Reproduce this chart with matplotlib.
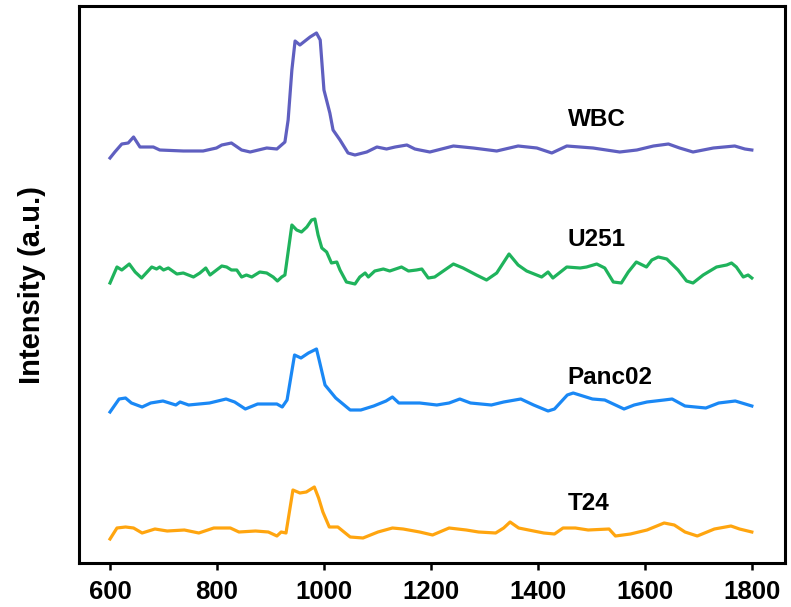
import numpy as np
import matplotlib as mpl
import matplotlib.pyplot as plt

# Raman spectra (wavenumber, intensity in a.u. incl. stacking offset)
wbc_x = [600, 609, 622, 634, 644, 656, 681, 693, 737, 774, 799, 809, 827, 846, 862, 893,
         912, 927, 933, 940, 946, 955, 974, 986, 993, 1000, 1011, 1017, 1030, 1045, 1058,
         1080, 1099, 1117, 1133, 1155, 1170, 1179, 1198, 1242, 1279, 1323, 1363, 1398,
         1426, 1454, 1503, 1553, 1585, 1616, 1644, 1665, 1690, 1728, 1768, 1787, 1800]
wbc_y = [405, 411, 419, 420, 426, 416, 416, 413, 412, 412, 415, 418, 420, 413, 411, 415,
         414, 421, 443, 493, 522, 518, 526, 530, 523, 473, 450, 433, 423, 410, 408,
         411, 416, 414, 416, 418, 414, 413, 411, 417, 415, 412, 417, 415,
         410, 417, 415, 411, 413, 417, 419, 415, 411, 415, 417, 414, 413]

u251_x = [600, 613, 622, 636, 647, 659, 678, 687, 693, 700, 709, 725, 737, 756, 768, 779,
          787, 809, 818, 827, 837, 846, 855, 865, 880, 893, 905, 913, 921, 927, 940, 949,
          958, 968, 977, 983, 989, 996, 1005, 1014, 1024, 1030, 1042, 1058, 1067, 1077,
          1083, 1095, 1111, 1123, 1145, 1158, 1173, 1183, 1195, 1207, 1242, 1260, 1285,
          1304, 1323, 1346, 1363, 1379, 1407, 1419, 1428, 1454, 1479, 1491, 1510, 1525,
          1541, 1556, 1569, 1584, 1603, 1613, 1625, 1641, 1662, 1678, 1690, 1709, 1734,
          1753, 1762, 1771, 1784, 1793, 1800]
u251_y = [280, 296, 293, 299, 291, 285, 296, 294, 296, 293, 295, 289, 290, 286, 290, 295,
          288, 297, 296, 293, 293, 286, 288, 286, 291, 290, 286, 282, 286, 288, 338, 333,
          331, 336, 343, 344, 328, 315, 311, 300, 301, 293, 281, 279, 286, 290,
          286, 292, 294, 292, 296, 292, 293, 294, 285, 286, 299, 295, 288,
          283, 290, 309, 298, 292, 286, 291, 285, 296, 295, 296, 299, 295,
          281, 280, 291, 301, 296, 303, 306, 304, 293, 282, 280, 288, 296,
          298, 300, 296, 286, 288, 285]

panc_x = [600, 617, 629, 640, 660, 676, 699, 723, 731, 747, 786, 817, 833, 853, 876, 912,
          922, 931, 945, 957, 971, 986, 991, 1002, 1022, 1049, 1069, 1093, 1116, 1128,
          1140, 1179, 1211, 1234, 1254, 1274, 1313, 1336, 1368, 1392, 1419, 1431, 1455,
          1466, 1478, 1502, 1525, 1561, 1580, 1604, 1636, 1651, 1675, 1714, 1738, 1769, 1800]
panc_y = [151, 164, 165, 160, 156, 160, 162, 158, 161, 158, 160, 164, 161, 154, 159, 159,
          156, 163, 208, 205, 210, 214, 203, 178, 165, 153, 153, 157, 162, 166,
          160, 160, 158, 160, 164, 160, 158, 161, 164, 158, 152, 154, 168,
          170, 168, 164, 163, 154, 158, 161, 163, 164, 157, 155, 160, 162, 157]

t24_x = [600, 613, 629, 644, 660, 684, 707, 739, 766, 794, 825, 841, 872, 896, 912, 920,
         929, 942, 955, 967, 982, 990, 998, 1010, 1026, 1049, 1073, 1101, 1128, 1148, 1179,
         1203, 1234, 1266, 1289, 1321, 1336, 1348, 1364, 1392, 1411, 1431, 1447, 1470,
         1494, 1533, 1545, 1573, 1604, 1636, 1655, 1675, 1698, 1730, 1761, 1777, 1800]
t24_y = [24, 35, 36, 35, 30, 34, 32, 33, 30, 35, 35, 31, 32, 31, 27, 31,
         30, 73, 70, 71, 76, 65, 51, 36, 36, 26, 25, 31, 35, 34, 31,
         28, 35, 33, 31, 30, 35, 41, 35, 32, 30, 29, 35, 35,
         33, 34, 27, 29, 33, 40, 38, 31, 27, 34, 37, 34, 31]

names = ['WBC', 'U251', 'Panc02', 'T24']
label_y = [443, 324, 185, 60]
label_x = 1456
colors = ['#5f5fc0', '#1fb35c', '#1a88f5', '#ffa50f']

mpl.rcParams['font.family'] = ['Liberation Sans', 'DejaVu Sans']
mpl.rcParams['font.weight'] = 'bold'

fig = plt.figure(figsize=(7.91, 6.07), dpi=100)
ax = fig.add_axes([79/791, 44/607, 706/791, 557/607])

series = [(wbc_x, wbc_y), (u251_x, u251_y), (panc_x, panc_y), (t24_x, t24_y)]
for (x, y), c, name, ly in zip(series, colors, names, label_y):
	ax.plot(x, y, color=c, lw=2.3, solid_joinstyle='round')
	ax.text(label_x, ly, name, ha='left', va='center', fontsize=17.5, fontweight='bold')

ax.set_xlim(542, 1862)
ax.set_ylim(0, 557)
ax.set_xticks(np.arange(600, 1801, 200))
ax.set_yticks([])
ax.tick_params(axis='x', direction='out', length=5, width=1.8, labelsize=18.5, pad=7)
for lab in ax.get_xticklabels():
	lab.set_fontweight('bold')
for s in ax.spines.values():
	s.set_linewidth(2.2)
ax.set_ylabel('Intensity (a.u.)', fontsize=21, fontweight='bold', labelpad=24)

fig.savefig('out.png', dpi=100)
